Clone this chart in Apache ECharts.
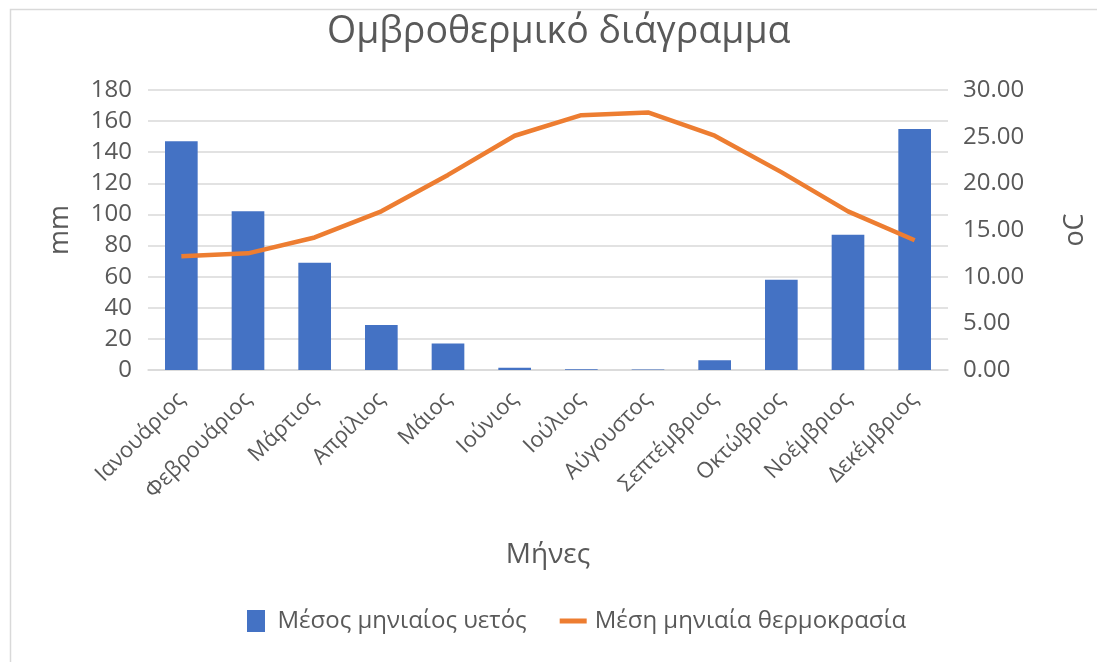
<!DOCTYPE html>
<html>
<head>
<meta charset="utf-8">
<script src="https://cdn.jsdelivr.net/npm/echarts@6/dist/echarts.min.js"></script>
<style>
html,body{margin:0;padding:0;background:#fff;}
#c{width:1097px;height:662px;}
</style>
</head>
<body>
<div id="c"></div>
<script>
const months = ['Ιανουάριος','Φεβρουάριος','Μάρτιος','Απρίλιος','Μάιος','Ιούνιος','Ιούλιος','Αύγουστος','Σεπτέμβριος','Οκτώβριος','Νοέμβριος','Δεκέμβριος'];
const rainfall = [147, 102, 69, 29, 17, 1.5, 0.5, 0.3, 6.2, 58, 87, 155];
const temperature = [12.2, 12.5, 14.2, 17.0, 20.9, 25.1, 27.3, 27.6, 25.1, 21.2, 17.0, 13.9];
const seriesNames = ['Μέσος μηνιαίος υετός', 'Μέση μηνιαία θερμοκρασία'];

const FONT = '"Open Sans", "Noto Sans", sans-serif';
const GREY = '#595959';
const chart = echarts.init(document.getElementById('c'), null, {renderer: 'canvas'});
chart.setOption({
  backgroundColor: '#fff',
  animation: false,
  textStyle: {fontFamily: FONT},
  graphic: [{
    type: 'rect', left: 8, top: 7, z: -1,
    shape: {width: 1200, height: 800},
    style: {fill: 'none', stroke: '#d9d9d9', lineWidth: 1.5}
  }],
  title: {
    text: 'Ομβροθερμικό διάγραμμα',
    left: 322, top: 8,
    textStyle: {fontFamily: FONT, fontSize: 37.5, fontWeight: 'normal', color: GREY}
  },
  legend: {
    top: 604, left: 242,
    itemGap: 33, itemWidth: 27, itemHeight: 22,
    textStyle: {fontFamily: FONT, fontSize: 24, color: GREY, padding: [0, 0, 0, 3]},
    data: [
      {name: seriesNames[0], icon: 'path://M0,0 L18,0 L18,22 L0,22 Z', itemStyle: {color: '#4472C4'}},
      {name: seriesNames[1], icon: 'path://M0,0 L27,0 L27,5 L0,5 Z', itemStyle: {color: '#ED7D31'}}
    ]
  },
  grid: {left: 148, right: 137, top: 90, bottom: 292},
  xAxis: {
    type: 'category',
    data: months,
    name: 'Μήνες',
    nameLocation: 'middle',
    nameGap: 171,
    nameTextStyle: {fontFamily: FONT, fontSize: 28, color: GREY},
    axisLine: {lineStyle: {color: '#d9d9d9', width: 1.5}},
    axisTick: {show: false},
    axisLabel: {rotate: 45, interval: 0, fontFamily: FONT, fontSize: 22, color: GREY, margin: 26}
  },
  yAxis: [{
    type: 'value', min: 0, max: 180, interval: 20,
    name: 'mm', nameLocation: 'middle', nameGap: 74, nameRotate: 90,
    nameTextStyle: {fontFamily: FONT, fontSize: 27, color: GREY},
    axisLine: {show: false}, axisTick: {show: false},
    axisLabel: {fontFamily: FONT, fontSize: 24, color: GREY, margin: 16},
    splitLine: {lineStyle: {color: '#d9d9d9', width: 1.5}}
  }, {
    type: 'value', min: 0, max: 30, interval: 5, position: 'right',
    name: 'oC', nameLocation: 'middle', nameGap: 114, nameRotate: 90,
    nameTextStyle: {fontFamily: FONT, fontSize: 27, color: GREY},
    axisLine: {show: false}, axisTick: {show: false},
    axisLabel: {fontFamily: FONT, fontSize: 24, color: GREY, margin: 15, formatter: v => v.toFixed(2)},
    splitLine: {show: false}
  }],
  series: [{
    name: seriesNames[0], type: 'bar', yAxisIndex: 0,
    data: rainfall, barCategoryGap: '51%',
    itemStyle: {color: '#4472C4'}
  }, {
    name: seriesNames[1], type: 'line', yAxisIndex: 1,
    data: temperature, symbol: 'none',
    lineStyle: {color: '#ED7D31', width: 4.5},
    itemStyle: {color: '#ED7D31'}
  }]
});
</script>
</body>
</html>
